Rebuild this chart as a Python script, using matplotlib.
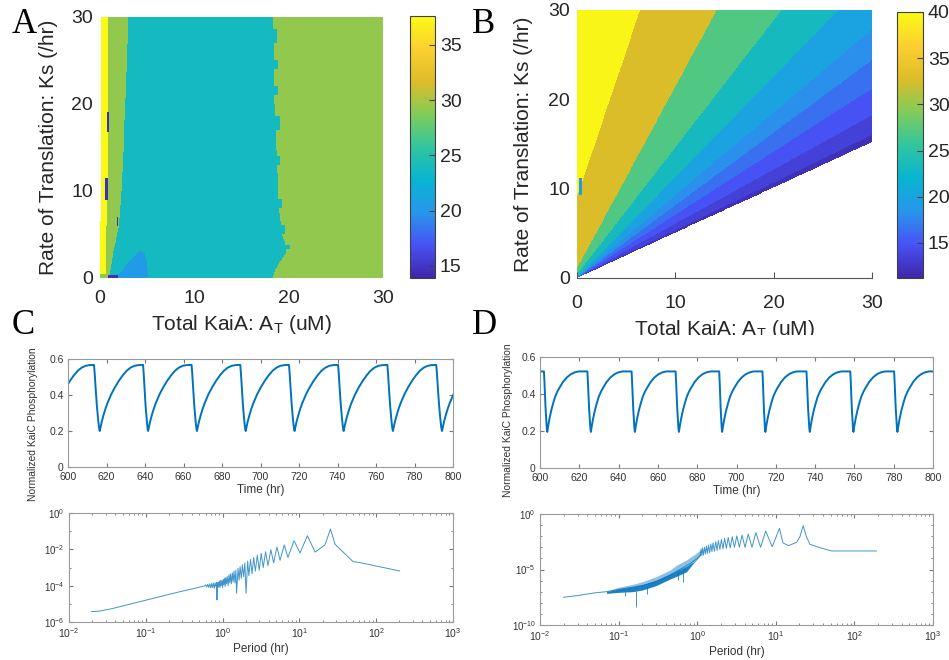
import numpy as np
import matplotlib
matplotlib.use('Agg')
import matplotlib.pyplot as plt
from matplotlib.colors import LinearSegmentedColormap
from matplotlib.patches import Rectangle
from matplotlib.ticker import FixedLocator, LogLocator, NullFormatter

plt.rcParams['font.family'] = ['Liberation Sans', 'DejaVu Sans']
plt.rcParams['mathtext.fontset'] = 'custom'
plt.rcParams['mathtext.rm'] = 'Liberation Sans'
plt.rcParams['mathtext.it'] = 'Liberation Sans:italic'

# ---- panel A: period map, region edges read per Ks row ----
a_ks = [0, 0.5, 3, 6, 10, 15.5, 22, 30]
a_green_edge = [0.9, 1.05, 1.4, 2.0, 2.25, 2.5, 2.75, 3.0]
a_teal_ks = [0, 1, 2, 3, 4, 5, 8, 12, 20, 25, 30]
a_teal_edge = [18.3, 18.6, 19.2, 19.8, 19.6, 19.3, 19.0, 18.8, 18.5, 18.5, 18.3]
a_yellow_ks = [0.5, 3, 6, 10, 20, 30]
a_yellow_edge = [0.55, 0.6, 0.65, 0.75, 0.85, 0.9]
a_patch_ks = [0, 1, 2, 2.8, 3.1]
a_patch_left = [1.6, 2.4, 3.2, 3.9, 4.3]
a_patch_right = [5.1, 5.0, 4.9, 4.7, 4.4]
a_streaks = [(0.7, 0.95, 16.7, 19.0), (0.53, 0.77, 9.0, 11.4), (1.77, 1.94, 6.0, 7.0), (0.85, 1.9, 0.0, 0.3)]
a_specks = [(18.3, 18.75, 27, 28.5), (18.4, 18.8, 24, 25), (18.5, 18.9, 21, 22), (18.6, 19.05, 17, 18.5),
            (18.7, 19.1, 13, 14), (18.9, 19.3, 8, 9), (19.2, 19.6, 5, 6), (19.7, 20.2, 3.3, 3.8)]
a_val_yellow, a_val_green, a_val_teal, a_val_blue, a_val_dark = 37.5, 29.3, 23.8, 20.3, 14.5
a_clim = (13.9, 37.6)
a_cticks = [15, 20, 25, 30, 35]

# ---- panel B: band edges as lines (x0, y0) -> (x1, y1), values from top-left ----
b_edges = [(0, 9.1, 6.4, 30), (0, 1.1, 14.2, 30), (0, 0.4, 20.8, 30), (0, 0, 26.6, 30),
           (0, 0, 30, 27.8), (0, 0, 30, 24.4), (0, 0, 30, 21.2), (0, 0, 30, 18.2), (0, 0, 30, 16.0)]
b_values = [39.5, 32.8, 27.0, 23.3, 19.8, 18.1, 16.4, 14.9, 13.5, 12.1]
b_lower_edge = (0, 0, 30, 15.2)
b_spots = [(0.2, 0.45, 9.3, 11.2)]
b_spot_val = 19.0
b_clim = (11.2, 40)
b_cticks = [15, 20, 25, 30, 35, 40]

# ---- time courses (C, D) ----
c_troughs = [591.1, 616.5, 641.6, 667.0, 692.3, 717.7, 743.2, 768.8, 794.3]
c_drops = [613.5, 639.0, 664.2, 689.5, 714.8, 740.3, 765.9, 791.3]
c_rise_dt = [0, 0.5, 1, 2, 3, 4, 5, 6, 8, 10, 12, 14, 16, 18, 20]
c_rise_v = [0.2, 0.225, 0.25, 0.29, 0.325, 0.355, 0.38, 0.405, 0.445, 0.48, 0.51, 0.535, 0.552, 0.562, 0.566]
c_drop_frac = [0, 0.12, 0.3, 0.5, 0.7, 0.85, 0.95]
c_drop_v = [0.567, 0.52, 0.43, 0.34, 0.27, 0.225, 0.205]

d_troughs = [581.5, 603.7, 625.9, 648.3, 670.7, 692.7, 714.7, 737.3, 759.5, 781.9]
d_drops = [602.0, 624.1, 646.6, 669.0, 691.2, 713.2, 735.6, 757.9, 780.2]
d_rise_dt = [0, 0.5, 1, 2, 3, 4, 5, 6, 8, 10, 12, 14, 16, 20]
d_rise_v = [0.195, 0.23, 0.26, 0.31, 0.35, 0.385, 0.41, 0.43, 0.465, 0.49, 0.507, 0.517, 0.522, 0.522]
d_drop_frac = [0, 0.12, 0.3, 0.5, 0.7, 0.85, 0.95]
d_drop_v = [0.522, 0.48, 0.40, 0.32, 0.255, 0.215, 0.2]

# ---- spectra: period (hr) and log10 power ----
c_spec_period = [0.0197, 0.025, 0.035, 0.05, 0.1, 0.2, 0.3, 0.4, 0.5, 0.58,
                 0.6, 0.62, 0.64, 0.66, 0.68, 0.7, 0.72, 0.74, 0.76, 0.78, 0.8, 0.82, 0.835, 0.845, 0.855, 0.87,
                 0.88, 0.895, 0.91, 0.925, 0.94, 0.96, 0.98, 1.0, 1.02, 1.04, 1.06, 1.08, 1.10, 1.125,
                 1.15, 1.18, 1.21, 1.24, 1.27, 1.30, 1.34, 1.37, 1.41, 1.45, 1.49, 1.52, 1.59, 1.64,
                 1.69, 1.75, 1.81, 1.88, 1.95, 2.02, 2.12, 2.2, 2.31, 2.42, 2.54, 2.67, 2.83, 3.0,
                 3.18, 3.38, 3.63, 3.9, 4.25, 4.62, 5.1, 5.6, 6.35, 7.1, 8.5, 10.2, 12.7, 16.0,
                 21.5, 25.4, 29.1, 50, 60, 202]
c_spec_exp = [-5.43, -5.4, -5.28, -5.12, -4.8, -4.48, -4.3, -4.18, -4.08, -4.02,
              -3.95, -4.08, -3.92, -4.1, -3.9, -4.12, -3.88, -4.1, -3.86, -4.15, -3.85, -4.05, -3.82, -4.79, -3.85, -4.1,
              -3.82, -4.05, -3.75, -4.1, -3.72, -4.0, -3.7, -4.1, -3.65, -3.95, -3.6, -4.05, -3.55, -3.9,
              -3.5, -4.0, -3.4, -3.85, -3.35, -3.9, -3.3, -3.8, -3.2, -3.85, -3.15, -4.42, -3.05, -3.7,
              -2.95, -3.6, -2.85, -3.5, -2.75, -4.42, -2.65, -3.45, -2.55, -3.35, -2.45, -3.2, -2.32, -3.15,
              -2.22, -3.0, -2.13, -2.9, -2.02, -2.75, -1.87, -2.6, -1.76, -2.45, -1.52, -2.2, -1.25, -2.15,
              -1.76, -0.88, -1.72, -2.68, -2.72, -3.19]

d_spec_period = [0.02, 0.03, 0.05, 0.07, 0.1, 0.15, 0.2, 0.3, 0.45, 0.6, 0.8, 1.0, 1.1,
                 1.12, 1.145, 1.17, 1.2, 1.24, 1.275, 1.31, 1.35, 1.39, 1.44, 1.49, 1.54, 1.59, 1.655,
                 1.72, 1.79, 1.86, 1.945, 2.03, 2.13, 2.23, 2.35, 2.48, 2.63, 2.79, 2.98, 3.19, 3.44,
                 3.72, 4.06, 4.46, 4.98, 5.58, 6.4, 7.43, 9.0, 11.15, 12.3, 14.5, 18.4, 20.3, 22.3,
                 24.5, 27.2, 36.3, 51, 191]
d_spec_exp = [-7.5, -7.35, -7.1, -7.0, -6.8, -6.6, -6.45, -6.1, -5.5, -5.0, -4.5, -4.0, -3.7,
              -3.15, -3.75, -3.05, -3.7, -3.0, -3.6, -2.9, -3.55, -2.8, -3.5, -2.7, -3.4, -2.6, -3.35,
              -2.5, -3.3, -2.4, -3.2, -2.3, -3.15, -2.2, -3.1, -2.12, -3.05, -2.05, -3.0, -1.97, -3.0,
              -1.9, -3.0, -1.8, -3.0, -1.68, -3.0, -1.53, -2.95, -1.29, -2.6, -2.85, -2.55, -2.04, -1.05,
              -2.04, -2.73, -3.03, -3.33, -3.33]
# dense oscillation band of D, drawn as envelopes
d_band_period = [0.07, 0.1, 0.15, 0.2, 0.3, 0.45, 0.55, 0.73, 0.9, 1.1]
d_band_upper = [-6.95, -6.6, -6.35, -6.1, -5.65, -5.05, -4.6, -4.14, -3.7, -3.24]
d_band_mid = [-7.0, -6.75, -6.55, -6.35, -5.95, -5.4, -5.1, -4.7, -4.3, -3.6]
d_band_lower = [-7.15, -7.06, -7.0, -6.85, -6.45, -5.86, -5.6, -5.2, -4.4, -3.7]
d_spike_period = [0.12, 0.166, 0.23, 0.575, 0.667]
d_spike_exp = [-7.35, -8.35, -7.2, -5.95, -6.16]
d_spike_top = [-7.0, -6.9, -6.6, -5.3, -5.0]

parula = LinearSegmentedColormap.from_list('parula', [
    (0.2422, 0.1504, 0.6603), (0.2810, 0.3228, 0.9579), (0.1540, 0.5902, 0.9218),
    (0.0297, 0.7082, 0.8163), (0.1938, 0.7758, 0.6251), (0.5044, 0.7993, 0.3480),
    (0.8634, 0.7406, 0.1596), (0.9892, 0.8136, 0.1885), (0.9769, 0.9839, 0.0805)])
line_blue = '#0072BD'
W, H = 949, 660


def px(l, t, r, b):
    return [l / W, 1 - b / H, (r - l) / W, (b - t) / H]


def cycle_trace(troughs, drops, rise_dt, rise_v, drop_frac, drop_v):
    t, v = [], []
    for k, tr in enumerate(troughs):
        end = drops[k] if k < len(drops) else tr + rise_dt[-1] + 1
        for dt, val in zip(rise_dt, rise_v):
            if tr + dt < end:
                t.append(tr + dt)
                v.append(val)
        if k < len(drops):
            d0, d1 = drops[k], troughs[k + 1]
            for f, val in zip(drop_frac, drop_v):
                t.append(d0 + f * (d1 - d0))
                v.append(val)
    return t, v


# grids for the maps
gx = np.linspace(0, 30, 601)
X, Y = np.meshgrid(gx, gx)

field_a = np.full(X.shape, a_val_green)
g_edge = np.interp(Y, a_ks, a_green_edge)
t_edge = np.interp(Y, a_teal_ks, a_teal_edge)
field_a[(X > g_edge) & (X < t_edge)] = a_val_teal
for x0, x1, y0, y1 in a_specks:
    field_a[(X >= x0) & (X <= x1) & (Y >= y0) & (Y <= y1)] = a_val_teal
y_edge = np.interp(Y, a_yellow_ks, a_yellow_edge)
field_a[(X <= y_edge) & (Y >= 0.5)] = a_val_yellow
p_left = np.interp(Y, a_patch_ks, a_patch_left)
p_right = np.interp(Y, a_patch_ks, a_patch_right)
field_a[(Y <= a_patch_ks[-1]) & (X >= p_left) & (X <= p_right)] = a_val_blue
for x0, x1, y0, y1 in a_streaks:
    field_a[(X >= x0) & (X <= x1) & (Y >= y0) & (Y <= y1)] = a_val_dark
field_a[(X < 0.15) & (Y > 6.5)] = np.nan

count = np.zeros(X.shape, dtype=int)
for x0, y0, x1, y1 in b_edges:
    cross = (x1 - x0) * (Y - y0) - (y1 - y0) * (X - x0)
    count += (cross < 0)
field_b = np.array(b_values)[count]
x0, y0, x1, y1 = b_lower_edge
field_b[((x1 - x0) * (Y - y0) - (y1 - y0) * (X - x0)) < 0] = np.nan
for sx0, sx1, sy0, sy1 in b_spots:
    field_b[(X >= sx0) & (X <= sx1) & (Y >= sy0) & (Y <= sy1)] = b_spot_val

fig = plt.figure(figsize=(W / 100, H / 100), dpi=100)

map_label = dict(fontsize=15, color='#262626')
xl = r'Total KaiA: A$_\mathregular{T}$ (uM)'
yl = 'Rate of Translation: Ks (/hr)'

# panel A
axA = fig.add_axes(px(100, 17, 383, 278))
imA = axA.imshow(field_a, extent=[0, 30, 0, 30], origin='lower', aspect='auto', cmap=parula,
                 vmin=a_clim[0], vmax=a_clim[1], interpolation='nearest')
axA.set_xlim(0, 30)
axA.set_ylim(0, 30)
for s in axA.spines.values():
    s.set_visible(False)
axA.set_xticks([0, 10, 20, 30])
axA.set_yticks([0, 10, 20, 30])
axA.tick_params(axis='x', length=0, pad=9, labelsize=14, labelcolor='#262626')
axA.tick_params(axis='y', length=0, pad=5, labelsize=14, labelcolor='#262626')
axA.set_xlabel(xl, **map_label)
axA.set_ylabel(yl, **map_label)
axA.xaxis.set_label_coords(0.5, -0.135)
axA.yaxis.set_label_coords(-0.148, 0.5)

caxA = fig.add_axes(px(410, 16, 435, 278))
cbA = fig.colorbar(imA, cax=caxA)
cbA.set_ticks(a_cticks)
cbA.ax.tick_params(direction='in', length=4, labelsize=14, labelcolor='#262626', color='#404040')
cbA.outline.set_edgecolor('#404040')
cbA.outline.set_linewidth(0.8)

# panel B
axB = fig.add_axes(px(577, 10, 872, 278))
imB = axB.imshow(field_b, extent=[0, 30, 0, 30], origin='lower', aspect='auto', cmap=parula,
                 vmin=b_clim[0], vmax=b_clim[1], interpolation='nearest')
axB.set_xlim(0, 30)
axB.set_ylim(0, 30)
for side in ['top', 'right', 'left']:
    axB.spines[side].set_visible(False)
axB.spines['bottom'].set_color('#555555')
axB.spines['bottom'].set_linewidth(0.8)
axB.set_xticks([0, 10, 20, 30])
axB.set_yticks([0, 10, 20, 30])
axB.tick_params(axis='x', direction='in', length=4, color='#555555', pad=12, labelsize=14, labelcolor='#262626')
axB.tick_params(axis='y', length=0, pad=5, labelsize=14, labelcolor='#262626')
axB.set_xlabel(xl, **map_label)
axB.set_ylabel(yl, **map_label)
axB.xaxis.set_label_coords(0.5, -0.148)
axB.yaxis.set_label_coords(-0.149, 0.5)

caxB = fig.add_axes(px(897, 12, 923, 278))
cbB = fig.colorbar(imB, cax=caxB)
cbB.set_ticks(b_cticks)
cbB.ax.tick_params(direction='in', length=4, labelsize=14, labelcolor='#262626', color='#404040')
cbB.outline.set_edgecolor('#404040')
cbB.outline.set_linewidth(0.8)

# the lower panels hide the bottom of B's x label
fig.patches.append(Rectangle((575 / W, 1 - 350 / H), 300 / W, 15 / H, transform=fig.transFigure,
                             facecolor='white', edgecolor='none', zorder=5))


def style_small(ax):
    for s in ax.spines.values():
        s.set_color('#9a9a9a')
        s.set_linewidth(0.8)
    ax.tick_params(which='both', direction='in', top=True, right=True, labelsize=7.5,
                   labelcolor='#333333', color='#777777', pad=2)
    ax.tick_params(which='major', length=3)
    ax.tick_params(which='minor', length=1.6)


def time_axes(ax, t, v, label_x, label_y):
    ax.plot(t, v, color=line_blue, lw=1.4)
    ax.set_xlim(600, 800)
    ax.set_ylim(0, 0.6)
    ax.set_xticks(np.arange(600, 801, 20))
    ax.set_yticks([0, 0.2, 0.4, 0.6])
    ax.set_yticklabels(['0', '0.2', '0.4', '0.6'])
    style_small(ax)
    ax.tick_params(axis='y', pad=3)
    ax.tick_params(axis='x', pad=3.5)
    ax.set_xlabel('Time (hr)', fontsize=8.5, color='#333333', labelpad=1.5)
    ax.set_ylabel('Normalized KaiC Phosphorylation', fontsize=7.4, color='#333333')
    ax.yaxis.set_label_coords(label_x, label_y)


def spec_axes(ax, ylo, ymajor):
    ax.set_xscale('log')
    ax.set_yscale('log')
    ax.set_xlim(1e-2, 1e3)
    ax.set_ylim(ylo, 1)
    ax.xaxis.set_major_locator(FixedLocator([1e-2, 1e-1, 1, 1e1, 1e2, 1e3]))
    ax.xaxis.set_minor_locator(LogLocator(base=10, subs=np.arange(2, 10)))
    ax.xaxis.set_minor_formatter(NullFormatter())
    ax.yaxis.set_major_locator(FixedLocator(ymajor))
    ax.yaxis.set_minor_locator(LogLocator(base=10, subs=[1.0], numticks=20))
    ax.yaxis.set_minor_formatter(NullFormatter())
    style_small(ax)
    ax.tick_params(axis='y', which='both', labelsize=7, pad=3)
    ax.tick_params(axis='x', which='both', pad=3)
    ax.set_xlabel('Period (hr)', fontsize=8.5, color='#333333', labelpad=2)


# panel C
axC1 = fig.add_axes(px(68, 359, 453, 467))
ct, cv = cycle_trace(c_troughs, c_drops, c_rise_dt, c_rise_v, c_drop_frac, c_drop_v)
time_axes(axC1, ct, cv, -0.078, 0.40)

axC2 = fig.add_axes(px(69, 513, 453, 622))
axC2.plot(c_spec_period, 10.0 ** np.array(c_spec_exp), color=line_blue, lw=0.7, alpha=0.75)
spec_axes(axC2, 1e-6, [1e-6, 1e-4, 1e-2, 1])

# panel D
axD1 = fig.add_axes(px(540, 357, 933, 468))
dt_, dv = cycle_trace(d_troughs, d_drops, d_rise_dt, d_rise_v, d_drop_frac, d_drop_v)
time_axes(axD1, dt_, dv, -0.069, 0.43)

axD2 = fig.add_axes(px(540, 514, 933, 625))
axD2.plot(d_spec_period, 10.0 ** np.array(d_spec_exp), color=line_blue, lw=0.7, alpha=0.75)
axD2.fill_between(d_band_period, 10.0 ** np.array(d_band_mid), 10.0 ** np.array(d_band_upper),
                  color=line_blue, alpha=0.45, lw=0)
axD2.fill_between(d_band_period, 10.0 ** np.array(d_band_lower), 10.0 ** np.array(d_band_mid),
                  color=line_blue, alpha=0.9, lw=0)
axD2.vlines(d_spike_period, 10.0 ** np.array(d_spike_exp), 10.0 ** np.array(d_spike_top),
            color=line_blue, lw=0.7, alpha=0.75)
spec_axes(axD2, 1e-10, [1e-10, 1e-5, 1])

# panel letters
for letter, x, y in [('A', 12, 33), ('B', 472, 33), ('C', 12, 334), ('D', 472, 334)]:
    fig.text(x / W, 1 - y / H, letter, fontsize=25, family='Liberation Serif', color='black',
             ha='left', va='baseline')

fig.savefig('out.png', dpi=100)
